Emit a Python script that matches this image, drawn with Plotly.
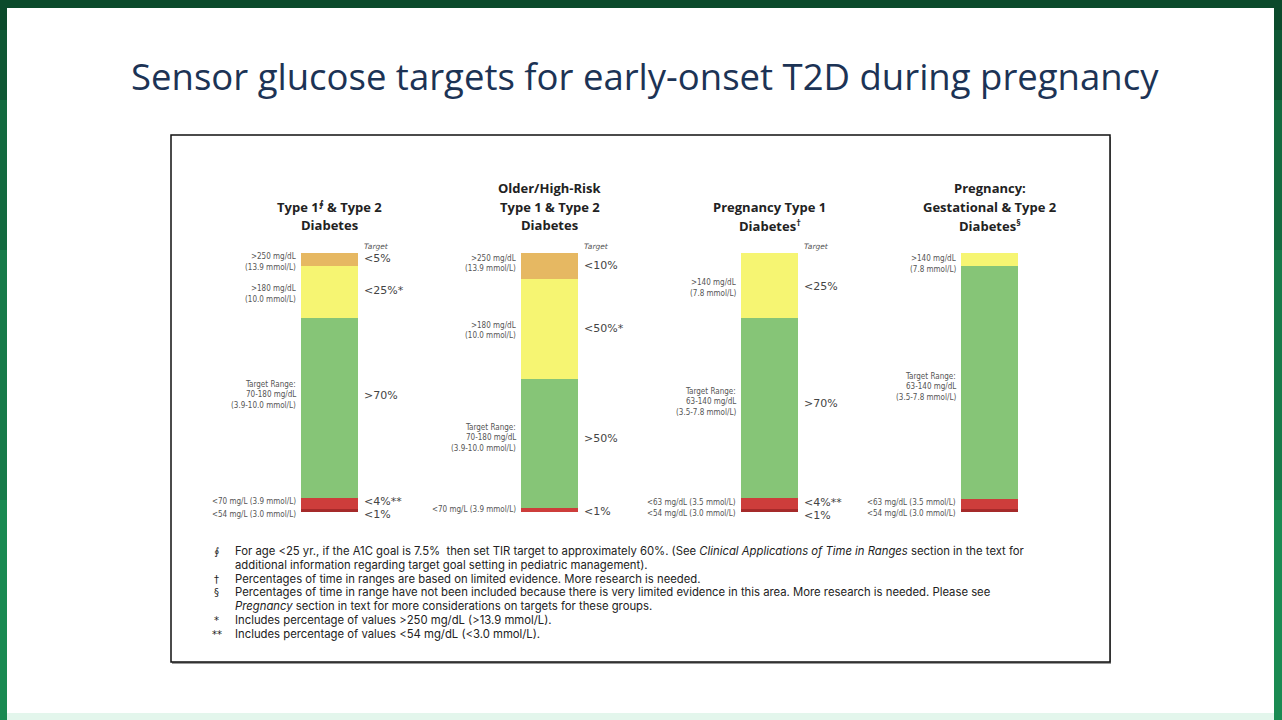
import plotly.graph_objects as go

# bar groups
groups = ["Type 1 & Type 2", "Older/High-Risk", "Pregnancy Type 1", "Pregnancy GDM & Type 2"]

# segment shares (% of time), bottom to top
very_low = [1, 0, 1, 1]
low = [4.5, 1.5, 4.5, 4]
in_range = [69.5, 50, 69.5, 90]
high = [20, 38.5, 25, 5]
very_high = [5, 10, 0, 0]

seg_colors = ["#a52a2a", "#cd3d3b", "#86c577", "#f6f572", "#e6b862"]

titles = [
    ["Type 1<sup>∮</sup> & Type 2", "Diabetes"],
    ["Older/High-Risk", "Type 1 & Type 2", "Diabetes"],
    ["Pregnancy Type 1", "Diabetes<sup>†</sup>"],
    ["Pregnancy:", "Gestational & Type 2", "Diabetes<sup>§</sup>"],
]

# (bar, y in %, lines)
left_labels = [
    (0, 96.5, [">250 mg/dL", "(13.9 mmol/L)"]),
    (0, 84.2, [">180 mg/dL", "(10.0 mmol/L)"]),
    (0, 45.2, ["Target Range:", "70-180 mg/dL", "(3.9-10.0 mmol/L)"]),
    (0, 4.2, ["<70 mg/L (3.9 mmol/L)"]),
    (0, -0.8, ["<54 mg/L (3.0 mmol/L)"]),
    (1, 96.0, [">250 mg/dL", "(13.9 mmol/L)"]),
    (1, 70.0, [">180 mg/dL", "(10.0 mmol/L)"]),
    (1, 28.6, ["Target Range:", "70-180 mg/dL", "(3.9-10.0 mmol/L)"]),
    (1, 0.8, ["<70 mg/L (3.9 mmol/L)"]),
    (2, 86.5, [">140 mg/dL", "(7.8 mmol/L)"]),
    (2, 42.5, ["Target Range:", "63-140 mg/dL", "(3.5-7.8 mmol/L)"]),
    (2, 3.5, ["<63 mg/dL (3.5 mmol/L)"]),
    (2, -0.4, ["<54 mg/dL (3.0 mmol/L)"]),
    (3, 95.8, [">140 mg/dL", "(7.8 mmol/L)"]),
    (3, 48.3, ["Target Range:", "63-140 mg/dL", "(3.5-7.8 mmol/L)"]),
    (3, 3.5, ["<63 mg/dL (3.5 mmol/L)"]),
    (3, -0.4, ["<54 mg/dL (3.0 mmol/L)"]),
]

right_labels = [
    (0, 97.7, "<5%"), (0, 85.7, "<25%*"), (0, 44.8, ">70%"), (0, 3.9, "<4%**"), (0, -0.8, "<1%"),
    (1, 95.0, "<10%"), (1, 71.0, "<50%*"), (1, 28.2, ">50%"), (1, 0.0, "<1%"),
    (2, 86.9, "<25%"), (2, 42.0, ">70%"), (2, 3.5, "<4%**"), (2, -1.5, "<1%"),
]
target_bars = [0, 1, 2]

footnote_syms = ["∮", "", "†", "§", "", "*", "**"]
footnotes = [
    "For age <25 yr., if the A1C goal is 7.5%  then set TIR target to approximately 60%. (See <i>Clinical Applications of Time in Ranges</i> section in the text for",
    "additional information regarding target goal setting in pediatric management).",
    "Percentages of time in ranges are based on limited evidence. More research is needed.",
    "Percentages of time in range have not been included because there is very limited evidence in this area. More research is needed. Please see",
    "<i>Pregnancy</i> section in text for more considerations on targets for these groups.",
    "Includes percentage of values >250 mg/dL (>13.9 mmol/L).",
    "Includes percentage of values <54 mg/dL (<3.0 mmol/L).",
]

W, H = 1282, 720
def py(p):
    return 1 - p / H

# y axis: 0% at px 512, 100% at px 253
PX_PER_PCT = 2.59
Y_LO, Y_HI = -5, 105

x = list(range(len(groups)))
fig = go.Figure()
for vals, col in zip([very_low, low, in_range, high, very_high], seg_colors):
    fig.add_trace(go.Bar(x=x, y=vals, width=0.259, marker=dict(color=col, line=dict(width=0)),
                         hoverinfo="skip", showlegend=False))

ann = []
# slide title
ann.append(dict(text="Sensor glucose targets for early-onset T2D during pregnancy", xref="paper", yref="paper",
                x=0.503, y=py(76), showarrow=False, xanchor="center", yanchor="middle",
                font=dict(family="Open Sans", size=36.5, color="#1c3355")))

for i, lines in enumerate(titles):
    n = len(lines)
    for k, t in enumerate(lines):
        ann.append(dict(text="<b>%s</b>" % t, xref="x", yref="paper", x=i, y=py(225 - (n - 1 - k) * 18.5),
                        showarrow=False, xanchor="center", yanchor="middle",
                        font=dict(family="Open Sans", size=13, color="#222")))

for b, yv, lines in left_labels:
    n = len(lines)
    for k, t in enumerate(lines):
        ann.append(dict(text=t, xref="x", yref="y", x=b - 0.13, y=yv, xshift=-3,
                        yshift=((n - 1) / 2 - k) * 10.5, showarrow=False, xanchor="right", yanchor="middle",
                        font=dict(family="DejaVu Sans Condensed, DejaVu Sans", size=8, color="#555")))

for b, yv, t in right_labels:
    ann.append(dict(text=t, xref="x", yref="y", x=b + 0.13, y=yv, xshift=4, showarrow=False,
                    xanchor="left", yanchor="middle", font=dict(family="DejaVu Sans", size=11, color="#444")))

for b in target_bars:
    ann.append(dict(text="<i>Target</i>", xref="x", yref="paper", x=b + 0.13, y=py(246), xshift=4,
                    showarrow=False, xanchor="left", yanchor="middle",
                    font=dict(family="DejaVu Sans", size=7.5, color="#555")))

for k, (s, t) in enumerate(zip(footnote_syms, footnotes)):
    yy = py([551, 565, 579, 592, 606, 620, 634][k])
    if s:
        ann.append(dict(text=s, xref="paper", yref="paper", x=217 / W, y=yy, showarrow=False,
                        xanchor="center", yanchor="middle", font=dict(family="DejaVu Sans", size=10, color="#222")))
    ann.append(dict(text=t, xref="paper", yref="paper", x=233 / W, y=yy, showarrow=False,
                    xanchor="left", yanchor="middle",
                    font=dict(family="Inter", size=11.3, color="#222")))

shapes = [
    # slide frame
    dict(type="rect", xref="paper", yref="paper", x0=0, x1=1, y0=0, y1=1, fillcolor="#1a8a52", line=dict(width=0), layer="below"),
    dict(type="rect", xref="paper", yref="paper", x0=0, x1=1, y0=py(500), y1=1, fillcolor="#177a49", line=dict(width=0), layer="below"),
    dict(type="rect", xref="paper", yref="paper", x0=0, x1=1, y0=py(250), y1=1, fillcolor="#136a3f", line=dict(width=0), layer="below"),
    dict(type="rect", xref="paper", yref="paper", x0=0, x1=1, y0=py(100), y1=1, fillcolor="#0e5734", line=dict(width=0), layer="below"),
    dict(type="rect", xref="paper", yref="paper", x0=0, x1=1, y0=py(30), y1=1, fillcolor="#0b4a2b", line=dict(width=0), layer="below"),
    dict(type="rect", xref="paper", yref="paper", x0=7 / W, x1=1274 / W, y0=0, y1=py(8), fillcolor="#ffffff", line=dict(width=0), layer="below"),
    dict(type="rect", xref="paper", yref="paper", x0=7 / W, x1=1274 / W, y0=0, y1=py(713), fillcolor="#e3f6ec", line=dict(width=0), layer="below"),
    # figure box
    dict(type="rect", xref="paper", yref="paper", x0=172 / W, x1=1111 / W, y0=py(664), y1=py(137), fillcolor="#9a9a9a", line=dict(width=0), layer="below"),
    dict(type="rect", xref="paper", yref="paper", x0=171 / W, x1=1110 / W, y0=py(662), y1=py(135), fillcolor="#ffffff", line=dict(color="#111", width=1.5), layer="below"),
]

fig.update_layout(
    width=W, height=H, autosize=False,
    margin=dict(l=0, r=0, t=0, b=0),
    paper_bgcolor="#ffffff", plot_bgcolor="rgba(0,0,0,0)",
    barmode="stack", bargap=0,
    xaxis=dict(range=[-1.498, 4.329], domain=[0, 1], visible=False, fixedrange=True),
    yaxis=dict(range=[Y_LO, Y_HI], domain=[py(512 - Y_LO * PX_PER_PCT), py(512 - Y_HI * PX_PER_PCT)],
               visible=False, fixedrange=True),
    annotations=ann, shapes=shapes,
)

fig.write_html("out.html", config={"displayModeBar": False},
               post_script="document.body.style.margin='0';document.body.style.overflow='hidden';")
